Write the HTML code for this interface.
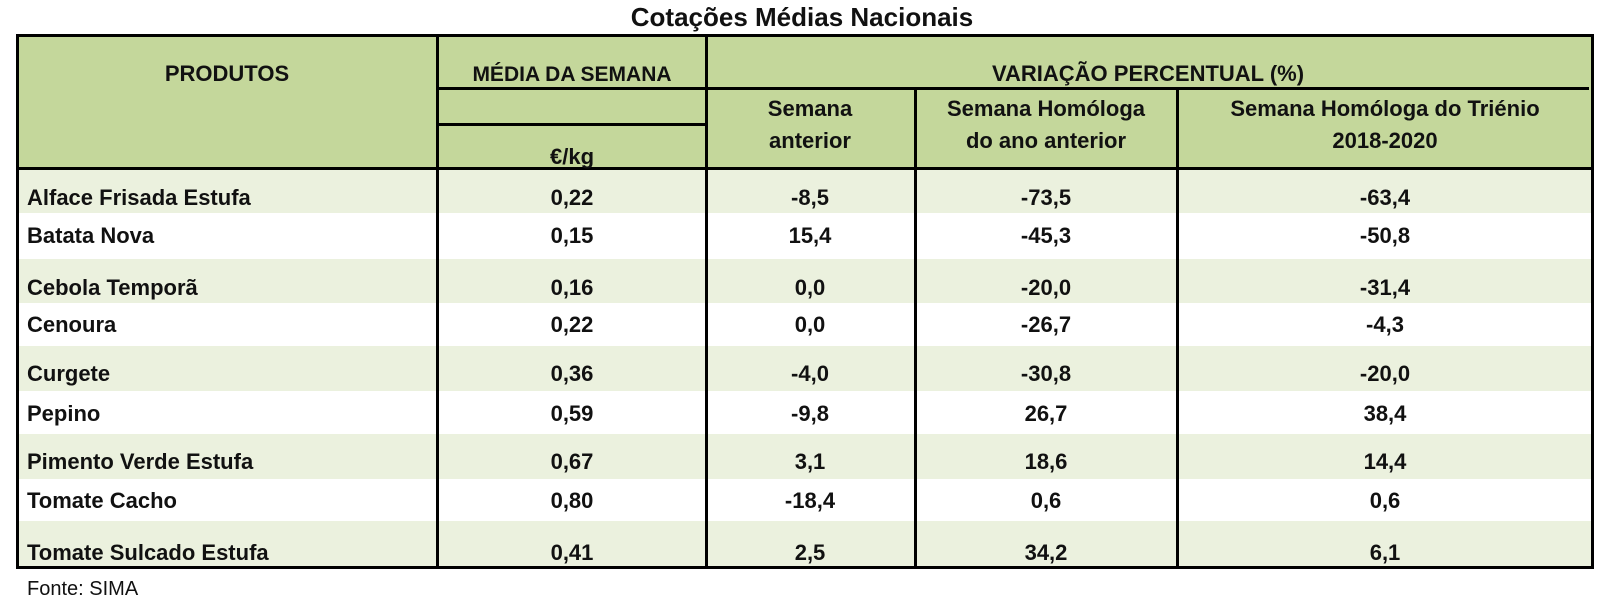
<!DOCTYPE html>
<html><head><meta charset="utf-8"><style>
body{margin:0;width:1602px;height:609px;background:#fff;position:relative;overflow:hidden;font-family:"Liberation Sans",Arial,sans-serif}
.a{position:absolute}
.t{position:absolute;font-weight:bold;font-size:22px;color:#111;white-space:nowrap;line-height:1}
.c{transform:translateX(-50%)}
.g{background:#ebf1de}
.h{background:#c4d79b}
.v{position:absolute;width:3px;background:#000}
.hz{position:absolute;height:3px;background:#000}
</style></head><body>
<div class="t c" style="left:802px;top:4px;font-size:26px">Cotações Médias Nacionais</div>
<div class="a h" style="left:17px;top:35px;width:1574px;height:134px"></div>
<div class="a g" style="left:17px;top:169px;width:1574px;height:44px"></div>
<div class="a g" style="left:17px;top:259px;width:1574px;height:44px"></div>
<div class="a g" style="left:17px;top:346px;width:1574px;height:45px"></div>
<div class="a g" style="left:17px;top:434px;width:1574px;height:45px"></div>
<div class="a g" style="left:17px;top:521px;width:1574px;height:45px"></div>
<div class="a" style="left:16px;top:34px;width:1572px;height:529px;border:3px solid #000"></div>
<div class="v" style="left:436px;top:35px;height:531px"></div>
<div class="v" style="left:705px;top:35px;height:531px"></div>
<div class="v" style="left:914px;top:88px;height:478px"></div>
<div class="v" style="left:1176px;top:88px;height:478px"></div>
<div class="hz" style="left:437px;top:87px;width:1152px"></div>
<div class="hz" style="left:437px;top:123px;width:269px"></div>
<div class="hz" style="left:17px;top:167px;width:1574px"></div>
<div class="t c" style="left:227px;top:63px">PRODUTOS</div>
<div class="t c" style="left:572px;top:64px;font-size:21px">MÉDIA DA SEMANA</div>
<div class="t c" style="left:1148px;top:63px">VARIAÇÃO PERCENTUAL (%)</div>
<div class="t c" style="left:572px;top:146px">€/kg</div>
<div class="t c" style="left:810px;top:98px">Semana</div>
<div class="t c" style="left:810px;top:130px">anterior</div>
<div class="t c" style="left:1046px;top:98px">Semana Homóloga</div>
<div class="t c" style="left:1046px;top:130px">do ano anterior</div>
<div class="t c" style="left:1385px;top:98px">Semana Homóloga do Triénio</div>
<div class="t c" style="left:1385px;top:130px">2018-2020</div>

<div class="t" style="left:27px;top:187px">Alface Frisada Estufa</div>
<div class="t c" style="left:572px;top:187px">0,22</div><div class="t c" style="left:810px;top:187px">-8,5</div><div class="t c" style="left:1046px;top:187px">-73,5</div><div class="t c" style="left:1385px;top:187px">-63,4</div>
<div class="t" style="left:27px;top:225px">Batata Nova</div>
<div class="t c" style="left:572px;top:225px">0,15</div><div class="t c" style="left:810px;top:225px">15,4</div><div class="t c" style="left:1046px;top:225px">-45,3</div><div class="t c" style="left:1385px;top:225px">-50,8</div>
<div class="t" style="left:27px;top:277px">Cebola Temporã</div>
<div class="t c" style="left:572px;top:277px">0,16</div><div class="t c" style="left:810px;top:277px">0,0</div><div class="t c" style="left:1046px;top:277px">-20,0</div><div class="t c" style="left:1385px;top:277px">-31,4</div>
<div class="t" style="left:27px;top:314px">Cenoura</div>
<div class="t c" style="left:572px;top:314px">0,22</div><div class="t c" style="left:810px;top:314px">0,0</div><div class="t c" style="left:1046px;top:314px">-26,7</div><div class="t c" style="left:1385px;top:314px">-4,3</div>
<div class="t" style="left:27px;top:363px">Curgete</div>
<div class="t c" style="left:572px;top:363px">0,36</div><div class="t c" style="left:810px;top:363px">-4,0</div><div class="t c" style="left:1046px;top:363px">-30,8</div><div class="t c" style="left:1385px;top:363px">-20,0</div>
<div class="t" style="left:27px;top:403px">Pepino</div>
<div class="t c" style="left:572px;top:403px">0,59</div><div class="t c" style="left:810px;top:403px">-9,8</div><div class="t c" style="left:1046px;top:403px">26,7</div><div class="t c" style="left:1385px;top:403px">38,4</div>
<div class="t" style="left:27px;top:451px">Pimento Verde Estufa</div>
<div class="t c" style="left:572px;top:451px">0,67</div><div class="t c" style="left:810px;top:451px">3,1</div><div class="t c" style="left:1046px;top:451px">18,6</div><div class="t c" style="left:1385px;top:451px">14,4</div>
<div class="t" style="left:27px;top:490px">Tomate Cacho</div>
<div class="t c" style="left:572px;top:490px">0,80</div><div class="t c" style="left:810px;top:490px">-18,4</div><div class="t c" style="left:1046px;top:490px">0,6</div><div class="t c" style="left:1385px;top:490px">0,6</div>
<div class="t" style="left:27px;top:542px">Tomate Sulcado Estufa</div>
<div class="t c" style="left:572px;top:542px">0,41</div><div class="t c" style="left:810px;top:542px">2,5</div><div class="t c" style="left:1046px;top:542px">34,2</div><div class="t c" style="left:1385px;top:542px">6,1</div>
<div class="t" style="left:27px;top:579px;font-weight:normal;font-size:20px">Fonte: SIMA</div>
</body></html>
